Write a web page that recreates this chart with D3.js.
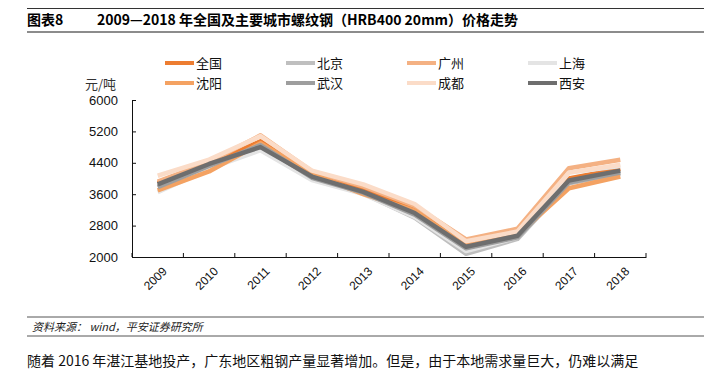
<!DOCTYPE html>
<html>
<head>
<meta charset="utf-8">
<script src="https://cdn.jsdelivr.net/npm/d3@7"></script>
<style>
  body { margin: 0; background: #fff; }
  svg { display: block; font-family: "Liberation Sans", Arial, "Noto Sans CJK SC", sans-serif; }
  .cn { font-family: "Noto Sans CJK SC", sans-serif; }
</style>
</head>
<body>
<svg id="chart" width="704" height="372"></svg>
<script>
// years on the x axis
var years = ["2009", "2010", "2011", "2012", "2013", "2014", "2015", "2016", "2017", "2018"]
var yTicks = [2000, 2800, 3600, 4400, 5200, 6000]

// price series, 元/吨
var quanguo  = [3880, 4350, 4950, 4100, 3700, 3200, 2330, 2600, 4000, 4250]
var beijing  = [3800, 4300, 4800, 4000, 3620, 3000, 2080, 2460, 3880, 4120]
var guangzhou = [3920, 4420, 5100, 4180, 3800, 3300, 2450, 2720, 4260, 4480]
var shanghai = [3650, 4250, 4720, 3960, 3600, 3020, 2150, 2500, 4150, 4320]
var shenyang = [3700, 4180, 4900, 4120, 3600, 3180, 2280, 2560, 3750, 4050]
var wuhan    = [3780, 4320, 4850, 4020, 3640, 3080, 2220, 2500, 3900, 4150]
var chengdu  = [4070, 4480, 5080, 4200, 3850, 3350, 2400, 2650, 4150, 4350]
var xian     = [3850, 4370, 4800, 4050, 3660, 3120, 2260, 2540, 3950, 4200]

var series = [
  { name: "全国", values: quanguo, color: "#ED7D31" },
  { name: "北京", values: beijing, color: "#BFBFBF" },
  { name: "广州", values: guangzhou, color: "#F4B183" },
  { name: "上海", values: shanghai, color: "#E4E4E4" },
  { name: "沈阳", values: shenyang, color: "#F4A262" },
  { name: "武汉", values: wuhan, color: "#9E9E9E" },
  { name: "成都", values: chengdu, color: "#FBDCC8" },
  { name: "西安", values: xian, color: "#6E6E6E" }
]

var svg = d3.select("#chart")

// header
svg.append("line").attr("x1", 27).attr("x2", 704).attr("y1", 8.5).attr("y2", 8.5)
  .attr("stroke", "#333").attr("stroke-width", 1)
svg.append("text").attr("class", "cn").attr("x", 27).attr("y", 25)
  .attr("font-size", 14).attr("font-weight", "bold").text("图表8")
svg.append("text").attr("class", "cn").attr("x", 97).attr("y", 25)
  .attr("font-size", 14).attr("font-weight", "bold")
  .text("2009—2018 年全国及主要城市螺纹钢（HRB400 20mm）价格走势")
svg.append("line").attr("x1", 27).attr("x2", 704).attr("y1", 32).attr("y2", 32)
  .attr("stroke", "#8c8c8c").attr("stroke-width", 2)

// plot area
var plotLeft = 132, plotRight = 646, plotTop = 100, plotBottom = 257

var x = d3.scaleBand().domain(years).range([plotLeft, plotRight])
var y = d3.scaleLinear().domain([2000, 6000]).range([plotBottom, plotTop])

var yAxis = d3.axisLeft(y).tickValues(yTicks).tickFormat(d3.format("d"))
  .tickSize(-4).tickPadding(14)
var gy = svg.append("g").attr("transform", "translate(" + plotLeft + ",0)").call(yAxis)
gy.selectAll("text").attr("font-size", 13).attr("fill", "#111")
  .attr("font-family", "Liberation Sans, Arial, sans-serif")
gy.selectAll("line, path").attr("stroke", "#111")

var xAxis = d3.axisBottom(x).tickSize(0).tickFormat("")
var gx = svg.append("g").attr("transform", "translate(0," + plotBottom + ")").call(xAxis)
gx.select("path").attr("stroke", "#111")

// inward ticks on the category borders
svg.append("g").selectAll("line")
  .data(years.concat(["end"]))
  .enter().append("line")
  .attr("x1", function (d, i) { return plotLeft + i * x.step() })
  .attr("x2", function (d, i) { return plotLeft + i * x.step() })
  .attr("y1", plotBottom).attr("y2", plotBottom - 4)
  .attr("stroke", "#111")

svg.append("g").selectAll("text")
  .data(years)
  .enter().append("text")
  .attr("transform", function (d) {
    return "translate(" + (x(d) + x.bandwidth() / 2 + 4) + "," + (plotBottom + 9) + ") rotate(-45)"
  })
  .attr("text-anchor", "end")
  .attr("dy", "0.7em")
  .attr("font-size", 12)
  .attr("fill", "#111")
  .text(function (d) { return d })

// unit label
svg.append("text").attr("class", "cn").attr("x", 116).attr("y", 89)
  .attr("text-anchor", "end").attr("font-size", 13).attr("fill", "#333").text("元/吨")

// lines
var line = d3.line()
  .x(function (d, i) { return x(years[i]) + x.bandwidth() / 2 })
  .y(function (d) { return y(d) })

svg.append("g").selectAll("path")
  .data(series)
  .enter().append("path")
  .attr("d", function (d) { return line(d.values) })
  .attr("fill", "none")
  .attr("stroke", function (d) { return d.color })
  .attr("stroke-width", 4.5)
  .attr("stroke-linejoin", "round")

// legend
var legend = svg.append("g").selectAll("g")
  .data(series)
  .enter().append("g")
  .attr("transform", function (d, i) {
    return "translate(" + (165 + (i % 4) * 121) + "," + (63 + Math.floor(i / 4) * 20) + ")"
  })
legend.append("line").attr("x1", 0).attr("x2", 29).attr("y1", 0).attr("y2", 0)
  .attr("stroke", function (d) { return d.color }).attr("stroke-width", 4)
legend.append("text").attr("class", "cn").attr("x", 31).attr("y", 0).attr("dy", "0.35em")
  .attr("font-size", 13).attr("fill", "#111").text(function (d) { return d.name })

// footer
svg.append("line").attr("x1", 27).attr("x2", 704).attr("y1", 317).attr("y2", 317)
  .attr("stroke", "#555").attr("stroke-width", 1)
svg.append("text").attr("class", "cn").attr("x", 32).attr("y", 331)
  .attr("font-size", 11).attr("font-style", "italic").attr("fill", "#222")
  .text("资料来源： wind，平安证券研究所")
svg.append("line").attr("x1", 27).attr("x2", 704).attr("y1", 336).attr("y2", 336)
  .attr("stroke", "#555").attr("stroke-width", 1)

svg.append("text").attr("class", "cn").attr("x", 27).attr("y", 366)
  .attr("font-size", 14).attr("fill", "#111")
  .text("随着 2016 年湛江基地投产，广东地区粗钢产量显著增加。但是，由于本地需求量巨大，仍难以满足")
</script>
</body>
</html>
